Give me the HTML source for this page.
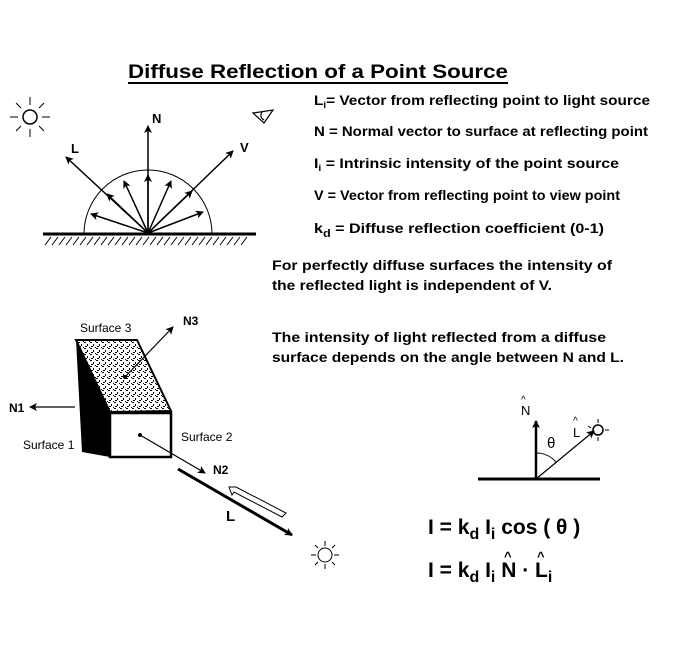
<!DOCTYPE html>
<html><head><meta charset="utf-8"><style>
html,body{margin:0;padding:0;background:#fff;width:692px;height:662px;overflow:hidden}
svg text{font-family:"Liberation Sans",sans-serif;font-weight:bold;fill:#000}
</style></head><body>
<svg width="692" height="662" viewBox="0 0 692 662" xmlns="http://www.w3.org/2000/svg">
<defs>
<marker id="a" markerWidth="8" markerHeight="8" refX="7" refY="4" orient="auto" markerUnits="userSpaceOnUse"><path d="M0,0 L8,4 L0,8 L2,4 z" fill="#000"/></marker>
<pattern id="st" width="6" height="6" patternUnits="userSpaceOnUse"><rect width="6" height="6" fill="#fff"/><rect x="0" y="0" width="2" height="1" fill="#000"/><rect x="3" y="2" width="1" height="2" fill="#000"/><rect x="1" y="4" width="2" height="1" fill="#000"/><rect x="5" y="5" width="1" height="1" fill="#000"/></pattern>
</defs>
<text x="128" y="78" font-size="19" textLength="380" lengthAdjust="spacingAndGlyphs">Diffuse Reflection of a Point Source</text>
<line x1="128" y1="83" x2="508" y2="83" stroke="#000" stroke-width="2"/>
<g font-size="14">
<text x="314" y="105" textLength="336" lengthAdjust="spacingAndGlyphs">L<tspan font-size="9" dy="3">i</tspan><tspan dy="-3">= Vector from reflecting point to light source</tspan></text>
<text x="314" y="136" textLength="334" lengthAdjust="spacingAndGlyphs">N = Normal vector to surface at reflecting point</text>
<text x="314" y="168" textLength="305" lengthAdjust="spacingAndGlyphs">I<tspan font-size="9" dy="3">i</tspan><tspan dy="-3"> = Intrinsic intensity of the point source</tspan></text>
<text x="314" y="200" textLength="306" lengthAdjust="spacingAndGlyphs">V = Vector from reflecting point to view point</text>
<text x="314" y="233" textLength="290" lengthAdjust="spacingAndGlyphs">k<tspan font-size="11" dy="4">d</tspan><tspan dy="-4"> = Diffuse reflection coefficient (0-1)</tspan></text>
<text x="272" y="270" textLength="340" lengthAdjust="spacingAndGlyphs">For perfectly diffuse surfaces the intensity of</text>
<text x="272" y="290" textLength="280" lengthAdjust="spacingAndGlyphs">the reflected light is independent of V.</text>
<text x="272" y="342" textLength="334" lengthAdjust="spacingAndGlyphs">The intensity of light reflected from a diffuse</text>
<text x="272" y="362" textLength="352" lengthAdjust="spacingAndGlyphs">surface depends on the angle between N and L.</text>
</g>
<g stroke="#000" fill="none">
<circle cx="30" cy="117" r="7" stroke-width="1.5"/>
<path d="M30,97v8M30,129v8M10,117h8M42,117h8M16,103l5,5M39,126l5,5M44,103l-5,5M21,126l-5,5" stroke-width="1"/>
<path d="M253,113 L273,110 L264,123 z M262,112 q-3,5 2,8" stroke-width="1.2"/>
<path d="M84,234 A64,64 0 0 1 212,234" stroke-width="1"/>
<line x1="43" y1="234" x2="256" y2="234" stroke-width="3"/>
<path d="M45,245l6,-8M52,245l6,-8M59,245l6,-8M66,245l6,-8M73,245l6,-8M80,245l6,-8M87,245l6,-8M94,245l6,-8M101,245l6,-8M108,245l6,-8M115,245l6,-8M122,245l6,-8M129,245l6,-8M136,245l6,-8M143,245l6,-8M150,245l6,-8M157,245l6,-8M164,245l6,-8M171,245l6,-8M178,245l6,-8M185,245l6,-8M192,245l6,-8M199,245l6,-8M206,245l6,-8M213,245l6,-8M220,245l6,-8M227,245l6,-8M234,245l6,-8M241,245l6,-8" stroke-width="1"/>
<g stroke-width="1.5" marker-end="url(#a)">
<line x1="148" y1="233" x2="148" y2="126"/>
<line x1="148" y1="233" x2="66" y2="157"/>
<line x1="148" y1="233" x2="233" y2="151"/>
<line x1="148" y1="233" x2="91" y2="214"/>
<line x1="148" y1="233" x2="124" y2="181"/>
<line x1="148" y1="233" x2="171" y2="181"/>
<line x1="148" y1="233" x2="203" y2="212"/>
<line x1="148" y1="233" x2="148" y2="175"/>
<line x1="148" y1="233" x2="107" y2="194"/>
<line x1="148" y1="233" x2="192" y2="191"/>
</g>
</g>
<text x="152" y="123" font-size="13">N</text>
<text x="71" y="153" font-size="13">L</text>
<text x="240" y="152" font-size="13">V</text>
<path d="M76,340 L110,413 L110,457 L82,452 z" fill="#000"/>
<path d="M76,340 L137,340 L171,411 L110,412 z" fill="url(#st)" stroke="#000" stroke-width="2"/>
<rect x="110" y="413" width="61" height="44" fill="#fff" stroke="#000" stroke-width="2.5"/>
<g stroke="#000" stroke-width="1.2" fill="none" marker-end="url(#a)">
<line x1="125" y1="377" x2="173" y2="327"/>
<line x1="75" y1="407" x2="30" y2="407"/>
<line x1="140" y1="435" x2="205" y2="473"/>
</g>
<circle cx="125" cy="377" r="2" fill="#000"/>
<circle cx="140" cy="435" r="2" fill="#000"/>
<line x1="178" y1="469" x2="292" y2="535" stroke="#000" stroke-width="3" marker-end="url(#a)"/>
<path d="M229,487 L236,487 L286,513 L282,517 L234,492 L232,495 z" fill="none" stroke="#000" stroke-width="1"/>
<g font-size="12"><text x="80" y="332" style="font-weight:normal">Surface 3</text><text x="23" y="449" style="font-weight:normal">Surface 1</text><text x="181" y="441" style="font-weight:normal">Surface 2</text></g>
<text x="183" y="325" font-size="12">N3</text>
<text x="9" y="412" font-size="12">N1</text>
<text x="213" y="474" font-size="12">N2</text>
<text x="226" y="521" font-size="15">L</text>
<g stroke="#000" fill="none" stroke-width="1">
<circle cx="325" cy="555" r="7"/>
<path d="M325,541v5M325,564v5M311,555h5M334,555h5M315,545l3,3M332,562l3,3M335,545l-3,3M318,562l-3,3"/>
</g>
<g stroke="#000" fill="none">
<line x1="478" y1="479" x2="600" y2="479" stroke-width="3"/>
<line x1="536" y1="479" x2="536" y2="421" stroke-width="2.5" marker-end="url(#a)"/>
<line x1="536" y1="479" x2="594" y2="431" stroke-width="1.2" marker-end="url(#a)"/>
<path d="M536,453 A26,26 0 0 1 556,462" stroke-width="1"/>
<circle cx="598" cy="430" r="5" stroke-width="1.5"/>
<path d="M598,419v4M598,437v4M605,430h4M588,426l3,2" stroke-width="1"/>
</g>
<text x="521" y="415" font-size="13" style="font-weight:normal">N</text>
<text x="521" y="403" font-size="10" style="font-weight:normal">^</text>
<text x="573" y="437" font-size="13" style="font-weight:normal">L</text>
<text x="573" y="424" font-size="10" style="font-weight:normal">^</text>
<text x="547" y="448" font-size="15" style="font-weight:normal">θ</text>
<text x="428" y="534" font-size="21">I = k<tspan font-size="16" dy="5">d</tspan><tspan dy="-5"> I</tspan><tspan font-size="16" dy="5">i</tspan><tspan dy="-5">  cos ( θ )</tspan></text>
<text x="428" y="577" font-size="21">I = k<tspan font-size="16" dy="5">d</tspan><tspan dy="-5"> I</tspan><tspan font-size="16" dy="5">i</tspan><tspan dy="-5">  N · L</tspan><tspan font-size="16" dy="5">i</tspan></text>
<text x="504" y="561" font-size="13">^</text>
<text x="537" y="561" font-size="13">^</text>
</svg>
</body></html>
